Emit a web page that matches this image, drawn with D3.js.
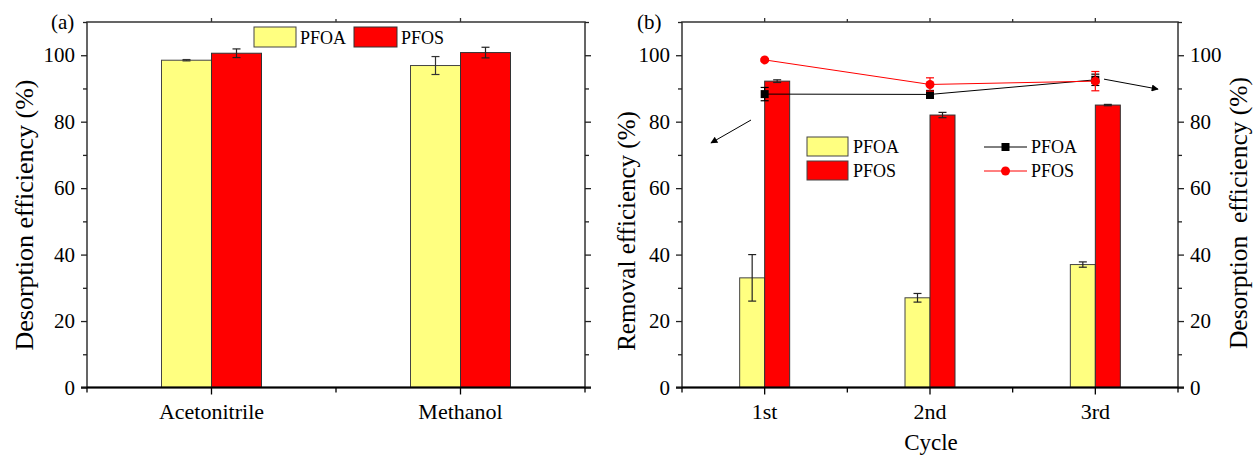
<!DOCTYPE html>
<html>
<head>
<meta charset="utf-8">
<script src="https://cdn.jsdelivr.net/npm/d3@7"></script>
<style>
  body { margin: 0; background: #fff; }
  svg, svg text { font-family: "Liberation Serif", "Times New Roman", serif; }
</style>
</head>
<body>
<svg id="chart" width="1255" height="455"></svg>
<script>
// panel (a) - desorption by solvent
const solvents = ["Acetonitrile", "Methanol"];
const pfoaDesorbA = [98.5, 96.9];
const pfoaDesorbErrA = [0.2, 2.7];
const pfosDesorbA = [100.6, 100.8];
const pfosDesorbErrA = [1.3, 1.6];

// panel (b) - removal (bars) and desorption (lines) by cycle
const cycles = ["1st", "2nd", "3rd"];
const pfoaRemoval = [33, 27, 37];
const pfoaRemovalErr = [7, 1.3, 0.8];
const pfosRemoval = [92.2, 82, 85];
const pfosRemovalErr = [0.4, 0.8, 0.2];
const pfoaDesorbB = [88.3, 88.2, 92.6];
const pfoaDesorbErrB = [2, 1.2, 1.7];
const pfosDesorbB = [98.6, 91.2, 92.2];
const pfosDesorbErrB = [0.3, 2, 2.9];

const majorTicks = [0, 20, 40, 60, 80, 100];
const minorTicks = [10, 30, 50, 70, 90, 110];

const yellow = "#FFFF80", red = "#FF0000";
const svg = d3.select("#chart");

svg.append("defs").append("marker")
    .attr("id", "arrow")
    .attr("viewBox", "0 0 10 10")
    .attr("refX", 9).attr("refY", 5)
    .attr("markerWidth", 9).attr("markerHeight", 7)
    .attr("markerUnits", "userSpaceOnUse")
    .attr("orient", "auto")
    .append("path").attr("d", "M0,0 L10,5 L0,10 z").attr("fill", "#000");

const yTop = 22, yBottom = 387.5;
const y = d3.scaleLinear().domain([0, 110]).range([yBottom, yTop]);

function yAxes(g, x0, x1, left, right) {
    if (left) {
        g.append("g").attr("transform", `translate(${x0},0)`)
            .call(d3.axisLeft(y).tickValues(majorTicks).tickSize(6).tickSizeOuter(0).tickPadding(6))
            .call(a => a.select(".domain").remove())
            .selectAll("text").style("font-size", "21px").attr("fill", "#000");
        g.append("g").attr("transform", `translate(${x0},0)`)
            .call(d3.axisLeft(y).tickValues(minorTicks).tickSize(4).tickFormat(""))
            .call(a => a.select(".domain").remove());
    }
    const ra = g.append("g").attr("transform", `translate(${x1},0)`)
        .call(d3.axisRight(y).tickValues(majorTicks).tickSize(6).tickPadding(6).tickFormat(right ? d3.format("d") : ""))
        .call(a => a.select(".domain").remove());
    ra.selectAll("text").style("font-size", "21px").attr("fill", "#000");
    g.append("g").attr("transform", `translate(${x1},0)`)
        .call(d3.axisRight(y).tickValues(minorTicks).tickSize(4).tickFormat(""))
        .call(a => a.select(".domain").remove());
    g.selectAll(".tick line").attr("stroke", "#222").attr("stroke-width", 1.3);
}

function frame(g, x0, x1) {
    g.append("rect").attr("x", x0).attr("y", yTop).attr("width", x1 - x0).attr("height", yBottom - yTop)
        .attr("fill", "none").attr("stroke", "#333").attr("stroke-width", 1.5);
    g.append("line").attr("x1", x0 - 6).attr("x2", x1 + 6).attr("y1", yBottom).attr("y2", yBottom)
        .attr("stroke", "#000").attr("stroke-width", 2.2);
}

function errBar(g, cx, v, e, color, cap) {
    g.append("line").attr("x1", cx).attr("x2", cx).attr("y1", y(v - e)).attr("y2", y(v + e))
        .attr("stroke", color).attr("stroke-width", 1.2);
    [v - e, v + e].forEach(t => g.append("line")
        .attr("x1", cx - cap).attr("x2", cx + cap).attr("y1", y(t)).attr("y2", y(t))
        .attr("stroke", color).attr("stroke-width", 1.2));
}

// ---------- panel (a) ----------
const ga = svg.append("g");
const xa = d3.scaleBand().domain(solvents).range([87, 585]);
const barWA = 50;

solvents.forEach((s, i) => {
    const cx = xa(s) + xa.bandwidth() / 2;
    ga.append("rect").attr("x", cx - barWA).attr("y", y(pfoaDesorbA[i]))
        .attr("width", barWA).attr("height", yBottom - y(pfoaDesorbA[i]))
        .attr("fill", yellow).attr("stroke", "#444").attr("stroke-width", 1);
    ga.append("rect").attr("x", cx).attr("y", y(pfosDesorbA[i]))
        .attr("width", barWA).attr("height", yBottom - y(pfosDesorbA[i]))
        .attr("fill", red).attr("stroke", "#333").attr("stroke-width", 1);
    errBar(ga, cx - barWA / 2, pfoaDesorbA[i], pfoaDesorbErrA[i], "#333", 4);
    errBar(ga, cx + barWA / 2, pfosDesorbA[i], pfosDesorbErrA[i], "#222", 4);
});

frame(ga, 87, 585);
yAxes(ga, 87, 585, true, false);

// x ticks panel a
const majA = solvents.map(s => xa(s) + xa.bandwidth() / 2);
const minA = [87, ...solvents.slice(1).map(s => xa(s)), 585];
majA.forEach(x => {
    ga.append("line").attr("x1", x).attr("x2", x).attr("y1", yBottom).attr("y2", yBottom + 7).attr("stroke", "#000").attr("stroke-width", 1.3);
    ga.append("line").attr("x1", x).attr("x2", x).attr("y1", yTop).attr("y2", yTop - 4).attr("stroke", "#333").attr("stroke-width", 1.3);
});
minA.forEach(x => {
    ga.append("line").attr("x1", x).attr("x2", x).attr("y1", yBottom).attr("y2", yBottom + 5).attr("stroke", "#000").attr("stroke-width", 1.3);
});
minA.slice(1, -1).forEach(x => {
    ga.append("line").attr("x1", x).attr("x2", x).attr("y1", yTop).attr("y2", yTop - 3).attr("stroke", "#333").attr("stroke-width", 1.3);
});
solvents.forEach((s, i) => {
    ga.append("text").attr("x", majA[i]).attr("y", 419).attr("text-anchor", "middle")
        .style("font-size", "22px").text(s);
});

ga.append("text").attr("transform", "translate(33,215) rotate(-90)").attr("text-anchor", "middle")
    .style("font-size", "26px").text("Desorption efficiency (%)");
ga.append("text").attr("x", 51).attr("y", 29).style("font-size", "21px").text("(a)");

// legend a
ga.append("rect").attr("x", 254).attr("y", 27).attr("width", 42).attr("height", 20)
    .attr("fill", yellow).attr("stroke", "#444");
ga.append("text").attr("x", 300).attr("y", 44).style("font-size", "18px").text("PFOA");
ga.append("rect").attr("x", 354).attr("y", 27).attr("width", 43).attr("height", 20)
    .attr("fill", red).attr("stroke", "#333");
ga.append("text").attr("x", 401).attr("y", 44).style("font-size", "18px").text("PFOS");

// ---------- panel (b) ----------
const gb = svg.append("g");
const xb = d3.scaleBand().domain(cycles).range([682, 1178]);
const barWB = 25;
const cxB = c => xb(c) + xb.bandwidth() / 2;

cycles.forEach((c, i) => {
    const cx = cxB(c);
    gb.append("rect").attr("x", cx - barWB).attr("y", y(pfoaRemoval[i]))
        .attr("width", barWB).attr("height", yBottom - y(pfoaRemoval[i]))
        .attr("fill", yellow).attr("stroke", "#444").attr("stroke-width", 1);
    gb.append("rect").attr("x", cx).attr("y", y(pfosRemoval[i]))
        .attr("width", barWB).attr("height", yBottom - y(pfosRemoval[i]))
        .attr("fill", red).attr("stroke", "#333").attr("stroke-width", 1);
    errBar(gb, cx - barWB / 2, pfoaRemoval[i], pfoaRemovalErr[i], "#222", 4);
    errBar(gb, cx + barWB / 2, pfosRemoval[i], pfosRemovalErr[i], "#222", 4);
});

// lines (right axis, same 0-110 scale)
const line = d3.line().x((d, i) => cxB(cycles[i])).y(d => y(d));
gb.append("path").datum(pfoaDesorbB).attr("d", line).attr("fill", "none").attr("stroke", "#000").attr("stroke-width", 1);
gb.append("path").datum(pfosDesorbB).attr("d", line).attr("fill", "none").attr("stroke", red).attr("stroke-width", 1);
cycles.forEach((c, i) => {
    errBar(gb, cxB(c), pfoaDesorbB[i], pfoaDesorbErrB[i], "#000", 4);
    gb.append("rect").attr("x", cxB(c) - 4).attr("y", y(pfoaDesorbB[i]) - 4)
        .attr("width", 8).attr("height", 8).attr("fill", "#000");
});
cycles.forEach((c, i) => {
    errBar(gb, cxB(c), pfosDesorbB[i], pfosDesorbErrB[i], red, 4);
    gb.append("circle").attr("cx", cxB(c)).attr("cy", y(pfosDesorbB[i])).attr("r", 4.5).attr("fill", red);
});

frame(gb, 682, 1178);
yAxes(gb, 682, 1178, true, true);

const majB = cycles.map(cxB);
const minB = [682, ...cycles.slice(1).map(c => xb(c)), 1178];
majB.forEach(x => {
    gb.append("line").attr("x1", x).attr("x2", x).attr("y1", yBottom).attr("y2", yBottom + 7).attr("stroke", "#000").attr("stroke-width", 1.3);
    gb.append("line").attr("x1", x).attr("x2", x).attr("y1", yTop).attr("y2", yTop - 4).attr("stroke", "#333").attr("stroke-width", 1.3);
});
minB.forEach(x => {
    gb.append("line").attr("x1", x).attr("x2", x).attr("y1", yBottom).attr("y2", yBottom + 5).attr("stroke", "#000").attr("stroke-width", 1.3);
});
minB.slice(1, -1).forEach(x => {
    gb.append("line").attr("x1", x).attr("x2", x).attr("y1", yTop).attr("y2", yTop - 3).attr("stroke", "#333").attr("stroke-width", 1.3);
});
cycles.forEach((c, i) => {
    gb.append("text").attr("x", majB[i]).attr("y", 419).attr("text-anchor", "middle")
        .style("font-size", "22px").text(c);
});
gb.append("text").attr("x", 931).attr("y", 450).attr("text-anchor", "middle")
    .style("font-size", "23px").text("Cycle");
gb.append("text").attr("transform", "translate(635,231) rotate(-90)").attr("text-anchor", "middle")
    .style("font-size", "25px").text("Removal efficiency (%)");
gb.append("text").attr("transform", "translate(1247,213) rotate(-90)").attr("text-anchor", "middle")
    .style("font-size", "25.5px").style("white-space", "pre")
    .text("Desorption  efficiency (%)");
gb.append("text").attr("x", 637).attr("y", 29).style("font-size", "21px").text("(b)");

// arrows
gb.append("line").attr("x1", 751).attr("y1", y(80.5)).attr("x2", 711).attr("y2", y(73.6))
    .attr("stroke", "#000").attr("stroke-width", 1).attr("marker-end", "url(#arrow)");
gb.append("line").attr("x1", 1104).attr("y1", y(92.8)).attr("x2", 1158).attr("y2", y(89.8))
    .attr("stroke", "#000").attr("stroke-width", 1).attr("marker-end", "url(#arrow)");

// legends b
[["PFOA", yellow, 137], ["PFOS", red, 161]].forEach(([t, col, yy]) => {
    gb.append("rect").attr("x", 807).attr("y", yy).attr("width", 41).attr("height", 19)
        .attr("fill", col).attr("stroke", "#444");
    gb.append("text").attr("x", 853).attr("y", yy + 16).style("font-size", "18px").text(t);
});
[["PFOA", "#000", 147, "sq"], ["PFOS", red, 171, "ci"]].forEach(([t, col, yy, m]) => {
    gb.append("line").attr("x1", 984).attr("x2", 1027).attr("y1", yy).attr("y2", yy).attr("stroke", col).attr("stroke-width", 1);
    if (m === "sq") gb.append("rect").attr("x", 1001.5).attr("y", yy - 4).attr("width", 8).attr("height", 8).attr("fill", col);
    else gb.append("circle").attr("cx", 1005.5).attr("cy", yy).attr("r", 4.5).attr("fill", col);
    gb.append("text").attr("x", 1031).attr("y", yy + 6).style("font-size", "18px").text(t);
});
</script>
</body>
</html>
